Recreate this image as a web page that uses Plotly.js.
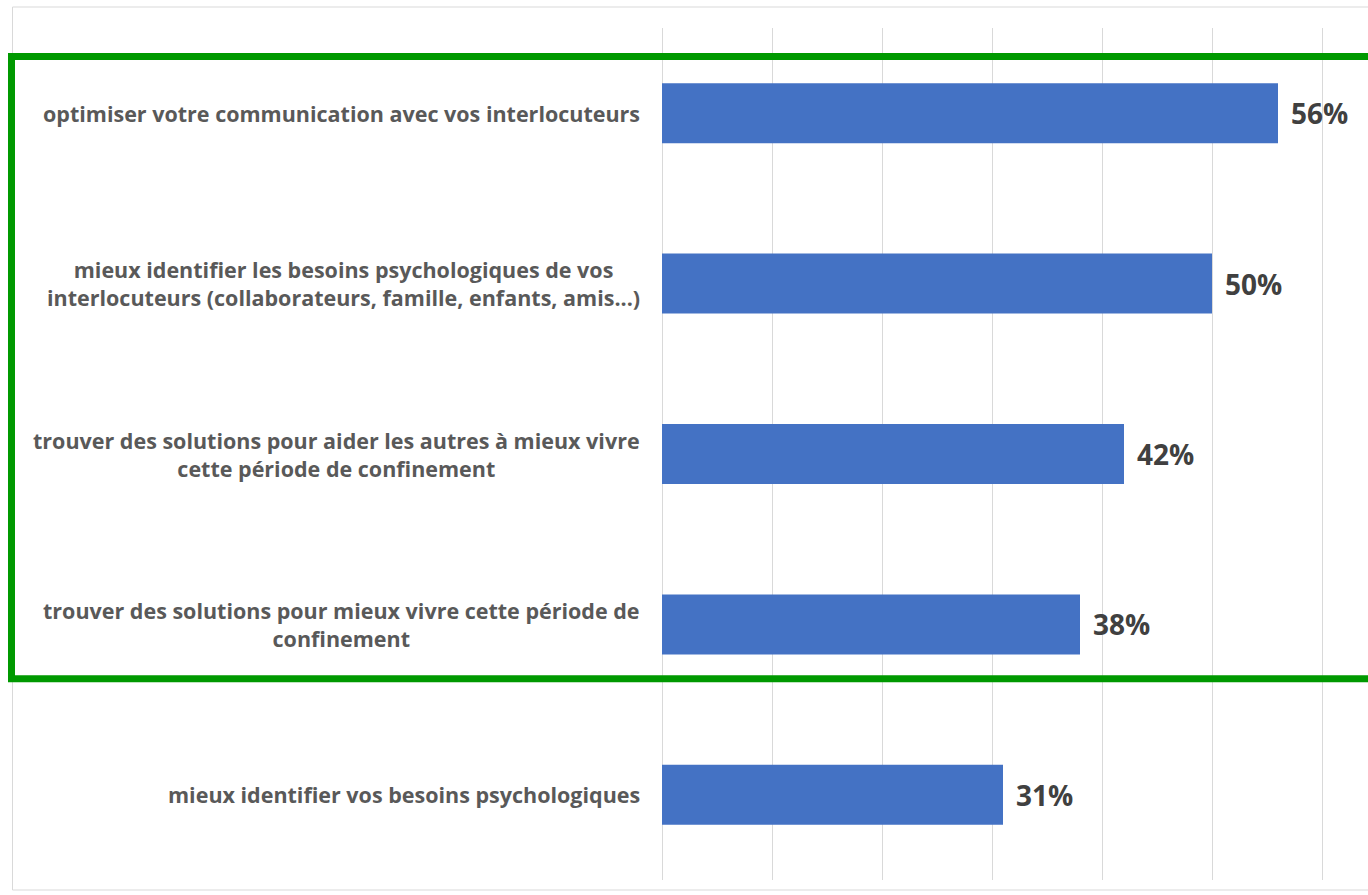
<!DOCTYPE html>
<html>
<head>
<meta charset="utf-8">
<script src="https://cdn.plot.ly/plotly-3.0.1.min.js"></script>
<style>
  html, body { margin: 0; padding: 0; background: #ffffff; }
  #chart { width: 1368px; height: 895px; }
</style>
</head>
<body>
<div id="chart"></div>
<script>
// ---- data ----
const categories = [
  "optimiser votre communication avec vos interlocuteurs",
  "mieux identifier les besoins psychologiques de vos<br>interlocuteurs (collaborateurs, famille, enfants, amis...)",
  "trouver des solutions pour aider les autres à mieux vivre<br>cette période de confinement",
  "trouver des solutions pour mieux vivre cette période de<br>confinement",
  "mieux identifier vos besoins psychologiques"
];
const values = [0.56, 0.50, 0.42, 0.38, 0.31];
const valueLabels = ["56%", "50%", "42%", "38%", "31%"];

// ---- chart ----
const trace = {
  type: 'bar',
  orientation: 'h',
  x: values,
  y: categories,
  marker: { color: '#4472C4', line: { width: 0 } },
  hoverinfo: 'none'
};

const catAnnotations = categories.map(c => ({
  xref: 'paper', yref: 'y',
  x: 0, y: c,
  xanchor: 'right', yanchor: 'middle',
  xshift: -20,
  align: 'center',
  showarrow: false,
  text: c,
  font: { family: 'Open Sans, sans-serif', size: 21.5, color: '#595959', weight: 'bold' }
}));

const valAnnotations = values.map((v, i) => ({
  xref: 'x', yref: 'y',
  x: v, y: categories[i],
  xanchor: 'left', yanchor: 'middle',
  xshift: 11,
  showarrow: false,
  text: valueLabels[i],
  font: { family: 'Open Sans, sans-serif', size: 28, color: '#404040', weight: 'bold' }
}));

// plot area: x 662 -> 1344 (0..0.62), y 28 -> 880
const PW = 682, PH = 852;
const px = p => (p - 662) / PW;
const py = p => (880 - p) / PH;

const layout = {
  width: 1368,
  height: 895,
  margin: { l: 662, r: 24, t: 28, b: 15 },
  paper_bgcolor: '#ffffff',
  plot_bgcolor: '#ffffff',
  showlegend: false,
  bargap: 0.648,
  xaxis: {
    range: [0, 0.62],
    tick0: 0,
    dtick: 0.1,
    showgrid: true,
    gridcolor: '#d9d9d9',
    gridwidth: 1,
    zeroline: true,
    zerolinecolor: '#d9d9d9',
    zerolinewidth: 1,
    showticklabels: false,
    ticks: '',
    showline: false,
    fixedrange: true
  },
  yaxis: {
    type: 'category',
    autorange: 'reversed',
    showticklabels: false,
    showgrid: false,
    zeroline: false,
    showline: false,
    ticks: '',
    fixedrange: true
  },
  annotations: catAnnotations.concat(valAnnotations),
  shapes: [
    {
      type: 'rect', xref: 'paper', yref: 'paper',
      x0: px(12.5), x1: px(1380), y0: py(890), y1: py(7),
      line: { color: '#d9d9d9', width: 1 },
      fillcolor: 'rgba(0,0,0,0)',
      layer: 'below'
    },
    {
      type: 'rect', xref: 'paper', yref: 'paper',
      x0: px(11.5), x1: px(1380), y0: py(678.8), y1: py(56.5),
      line: { color: '#009900', width: 7 },
      fillcolor: 'rgba(0,0,0,0)',
      layer: 'above'
    }
  ]
};

Plotly.newPlot('chart', [trace], layout, { displayModeBar: false, staticPlot: true });
</script>
</body>
</html>
